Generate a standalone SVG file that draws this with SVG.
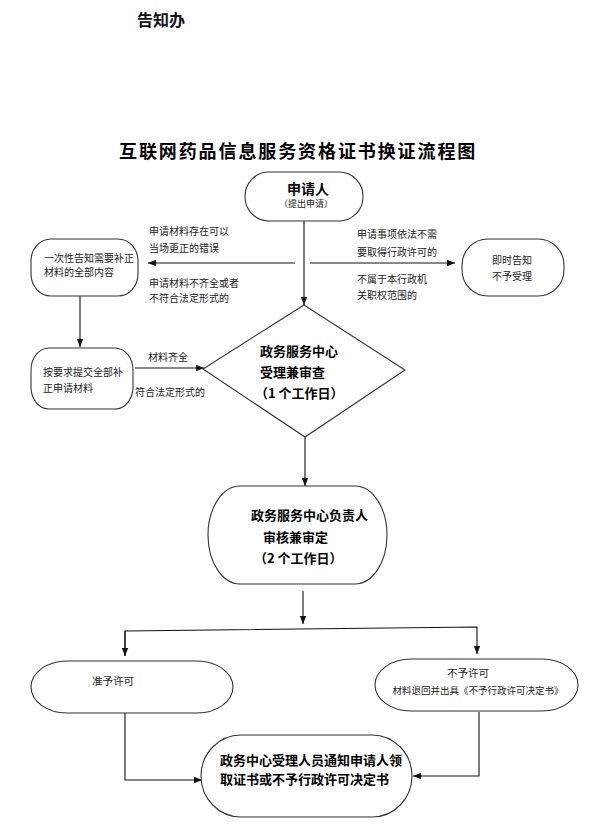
<svg xmlns="http://www.w3.org/2000/svg" width="607" height="828" viewBox="0 0 607 828">
<style>
.box{fill:#fff;stroke:#333;stroke-width:1.1}
.ln{fill:none;stroke:#111;stroke-width:1.1}
.s{font-family:"Noto Sans CJK SC","Liberation Sans",sans-serif;font-size:10px;fill:#222}
.b{font-family:"Noto Sans CJK SC","Liberation Sans",sans-serif;font-size:13px;font-weight:bold;fill:#000}
</style>
<defs>
<marker id="ah" viewBox="0 0 8 8" refX="8" refY="4" markerWidth="8" markerHeight="8" markerUnits="userSpaceOnUse" orient="auto">
<path d="M0,0.8 L8,4 L0,7.2 Z" fill="#111"/>
</marker>
</defs>
<rect width="607" height="828" fill="#fff"/>
<text x="137" y="26" style="font-family:'Noto Sans CJK SC',sans-serif;font-size:16px;font-weight:bold;fill:#111">告知办</text>
<text x="119" y="157.5" style="font-family:'Noto Sans CJK SC',sans-serif;font-size:18px;font-weight:bold;fill:#000;letter-spacing:1.9px">互联网药品信息服务资格证书换证流程图</text>

<g id="connectors">
<path class="ln" d="M304,221 V305" marker-end="url(#ah)"/>
<path class="ln" d="M295,263 H148" marker-end="url(#ah)"/>
<path class="ln" d="M310,263 H455" marker-end="url(#ah)"/>
<path class="ln" d="M80,296 V347" marker-end="url(#ah)"/>
<path class="ln" d="M135,368 H204" marker-end="url(#ah)"/>
<path class="ln" d="M305,437 V486" marker-end="url(#ah)"/>
<path class="ln" d="M303,591 V624" marker-end="url(#ah)"/>
<path class="ln" d="M125,656 V631 L477,627 V654" marker-end="url(#ah)"/>
<path class="ln" d="M125,631 V656" marker-end="url(#ah)"/>
<path class="ln" d="M125,713 V780 H202" marker-end="url(#ah)"/>
<path class="ln" d="M479,712 V776 H413" marker-end="url(#ah)"/>
</g>
<g id="edge-labels">
<text class="s" x="149" y="235">申请材料存在可以</text>
<text class="s" x="149" y="252">当场更正的错误</text>
<text class="s" x="149" y="287">申请材料不齐全或者</text>
<text class="s" x="149" y="302">不符合法定形式的</text>
<text class="s" x="357" y="238">申请事项依法不需</text>
<text class="s" x="357" y="256">要取得行政许可的</text>
<text class="s" x="357" y="283">不属于本行政机</text>
<text class="s" x="357" y="299">关职权范围的</text>
<text class="s" x="148" y="361">材料齐全</text>
<text class="s" x="135" y="396">符合法定形式的</text>
</g>

<g id="n-applicant">
<rect class="box" x="245" y="172" width="118" height="49" rx="24" ry="24"/>
<text x="308" y="194" text-anchor="middle" style="font-family:'Noto Sans CJK SC',sans-serif;font-size:14px;font-weight:bold;fill:#000">申请人</text>
<text x="306" y="207" text-anchor="middle" class="s" style="font-size:9px">（提出申请）</text>
</g>
<g id="n-notify">
<rect class="box" x="31" y="239" width="107" height="57" rx="20" ry="22"/>
<text class="s" x="44" y="262">一次性告知需要补正</text>
<text class="s" x="44" y="276">材料的全部内容</text>
</g>
<g id="n-reject">
<rect class="box" x="462" y="239" width="102" height="57" rx="26" ry="26"/>
<text class="s" x="512" y="264" text-anchor="middle">即时告知</text>
<text class="s" x="512" y="280" text-anchor="middle">不予受理</text>
</g>
<g id="n-resubmit">
<rect class="box" x="31" y="348" width="102" height="61" rx="18" ry="22"/>
<text class="s" x="43" y="376">按要求提交全部补</text>
<text class="s" x="43" y="392">正申请材料</text>
</g>
<g id="n-review">
<path class="box" d="M304,305 L405,370 L305,437 L203,369 Z"/>
<text class="b" x="260" y="356">政务服务中心</text>
<text class="b" x="260" y="377">受理兼审查</text>
<text class="b" x="255" y="398">（1 个工作日）</text>
</g>
<g id="n-decide">
<rect class="box" x="208" y="486" width="179" height="98" rx="32" ry="49"/>
<text class="b" x="251" y="519.5">政务服务中心负责人</text>
<text class="b" x="263" y="542">审核兼审定</text>
<text class="b" x="254" y="562.5">（2 个工作日）</text>
</g>
<g id="n-approve">
<rect class="box" x="31" y="661" width="202" height="52" rx="36" ry="26"/>
<text class="s" x="92" y="684.5" style="font-size:10.5px">准予许可</text>
</g>
<g id="n-deny">
<rect class="box" x="375" y="659" width="203" height="52" rx="36" ry="26"/>
<text class="s" x="468" y="677" text-anchor="middle" style="font-size:10.5px">不予许可</text>
<text class="s" x="478" y="694" text-anchor="middle" style="font-size:9.5px">材料退回并出具《不予行政许可决定书》</text>
</g>
<g id="n-final">
<rect class="box" x="201" y="735" width="211" height="82" rx="40" ry="41"/>
<text class="b" x="220" y="765">政务中心受理人员通知申请人领</text>
<text class="b" x="220" y="783.5">取证书或不予行政许可决定书</text>
</g>
</svg>
